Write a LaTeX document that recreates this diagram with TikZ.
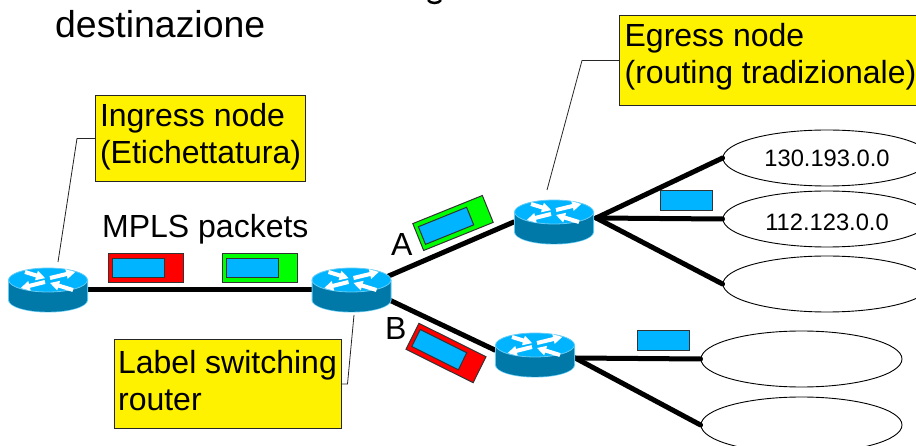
\documentclass[tikz,border=0pt]{standalone}
\usepackage{fontspec}
\setmainfont{Liberation Sans}
\usetikzlibrary{shapes.geometric}
\definecolor{pktblue}{HTML}{00B4FF}
\definecolor{routertop}{HTML}{00B4FF}
\definecolor{routerside}{HTML}{0078A8}
\definecolor{routeredge}{HTML}{66CCF5}
\tikzset{
	routernode/.style={minimum width=80pt, minimum height=44pt, inner sep=0pt},
	link/.style={line width=5pt, line cap=round},
	leader/.style={line width=0.8pt, black!85},
	notebox/.style={draw=black!85, fill=yellow, line width=1pt, align=left, anchor=north west, inner xsep=4pt, inner ysep=5pt,
		font=\fontsize{32}{37}\selectfont},
	lan/.style={draw, ellipse, line width=0.9pt, fill=white, minimum width=201pt, minimum height=56pt, inner sep=0pt,
		font=\fontsize{23.7}{28}\selectfont},
	bigtext/.style={font=\fontsize{32}{37}\selectfont, inner sep=0pt},
	payload/.style={draw=black!80, fill=pktblue, line width=1pt, minimum width=52pt, minimum height=20pt, inner sep=0pt},
	router/.pic={
		\fill [routeredge] (-40,-10) -- (-40,10) arc (180:0:40 and 12.5) -- (40,-10) -- cycle;
		\fill [routerside] (-39,-10) -- (-39,10) arc (180:0:39 and 11.8) -- (39,-10) -- cycle;
		\draw [routeredge, fill=routertop, line width=0.8pt] (0,-10) ellipse (39.5 and 12);
		% white arrows on the lid
		\foreach \tx/\ty/\ang/\len in {-23/-8/-17/21, 2/-2/13.5/26, -3/2/194/25, 25/10/163/24}
			\fill [white, shift={(\tx,\ty-10)}, rotate=\ang]
				(0,-2) -- (\len-9,-2) -- (\len-9,-5) -- (\len,0) -- (\len-9,5) -- (\len-9,2) -- (0,2) -- cycle;
	},
	pics/packet/.style={code={
		\draw [draw=black!80, fill=#1, line width=1pt] (-37.5,-14.5) rectangle (37.5,14.5);
		\draw [draw=black!80, fill=pktblue, line width=1pt] (-33.5,-9.5) rectangle (18.5,9.5);
	}},
}

\begin{document}
\begin{tikzpicture}[x=1pt, y=-1pt]
	\useasboundingbox (0,0) rectangle (916,446);

	\node [bigtext, font=\fontsize{37.4}{43}\selectfont, anchor=base west] (title) at (55,38) {destinazione};
	\draw [line width=2.5pt] (428,0) .. controls (430,4) and (439,4) .. (441,0);

	% routers
	\node [routernode] (ingress) at (48,290) {};
	\node [routernode] (lsr) at (351.5,290) {};
	\node [routernode] (rA) at (554,222) {};
	\node [routernode] (rB) at (535,355) {};

	% networks
	\node [lan, minimum width=208pt] (netA) at (827,158) {130.193.0.0};
	\node [lan, minimum width=208pt, text height=23pt] (netB) at (827,219) {112.123.0.0};
	\node [lan, minimum width=208pt] (netC) at (827,284) {};
	\node [lan] (netD) at (801.5,359) {};
	\node [lan] (netE) at (801.5,425) {};

	\draw [link] (ingress) -- (lsr);
	\draw [link] ([yshift=-2pt]lsr.center) -- (rA.west);
	\draw [link] ([yshift=8pt]lsr.center) -- ([yshift=5pt]rB.west);
	\foreach \n in {netA, netB, netC}
		\draw [link] ([shift={(2,-4)}]rA.east) -- (\n.west);
	\foreach \n in {netD, netE}
		\draw [link] ([shift={(0,3)}]rB.east) -- (\n.west);

	\pic at (ingress) {router};
	\pic at (lsr) {router};
	\pic at (rA) {router};
	\pic at (rB) {router};

	% packets
	\pic at (146,268.5) {packet=red};
	\pic at (259.5,268.5) {packet=green};
	\pic [rotate=22] at (453,223) {packet=green};
	\pic [rotate=-26.5] at (446,353) {packet=red};
	\node [payload] (pktA) at (686,200.5) {};
	\node [payload] (pktB) at (663,341) {};

	% notes
	\node [notebox, minimum width=210pt, minimum height=86pt, text depth=11pt] (ingressnote) at (95,95) {Ingress node\\(Etichettatura)};
	\node [notebox, minimum width=302pt, minimum height=90pt, text depth=15pt] (egressnote) at (619,15) {Egress node\\(routing tradizionale)};
	\node [notebox, minimum width=227pt, minimum height=88pt, text depth=8pt] (lsrnote) at (113.5,339.5) {Label switching\\router};

	\coordinate (ingresstip) at (58,262);
	\coordinate (egresstip) at (547,190);
	\coordinate (lsrtip) at (354,315);
	\draw [leader] (ingressnote.west) -- ++(-18,0) -- (ingresstip);
	\draw [leader] (egressnote.west) -- ++(-37,0) -- (egresstip);
	\draw [leader] (lsrnote.east) -- ++(6,0) -- (lsrtip);

	\node [bigtext, anchor=base west] (mplslabel) at (102,238) {MPLS packets};
	\node [bigtext, anchor=base west] (labelA) at (391,256) {A};
	\node [bigtext, anchor=base west] (labelB) at (385,340) {B};
\end{tikzpicture}
\end{document}
